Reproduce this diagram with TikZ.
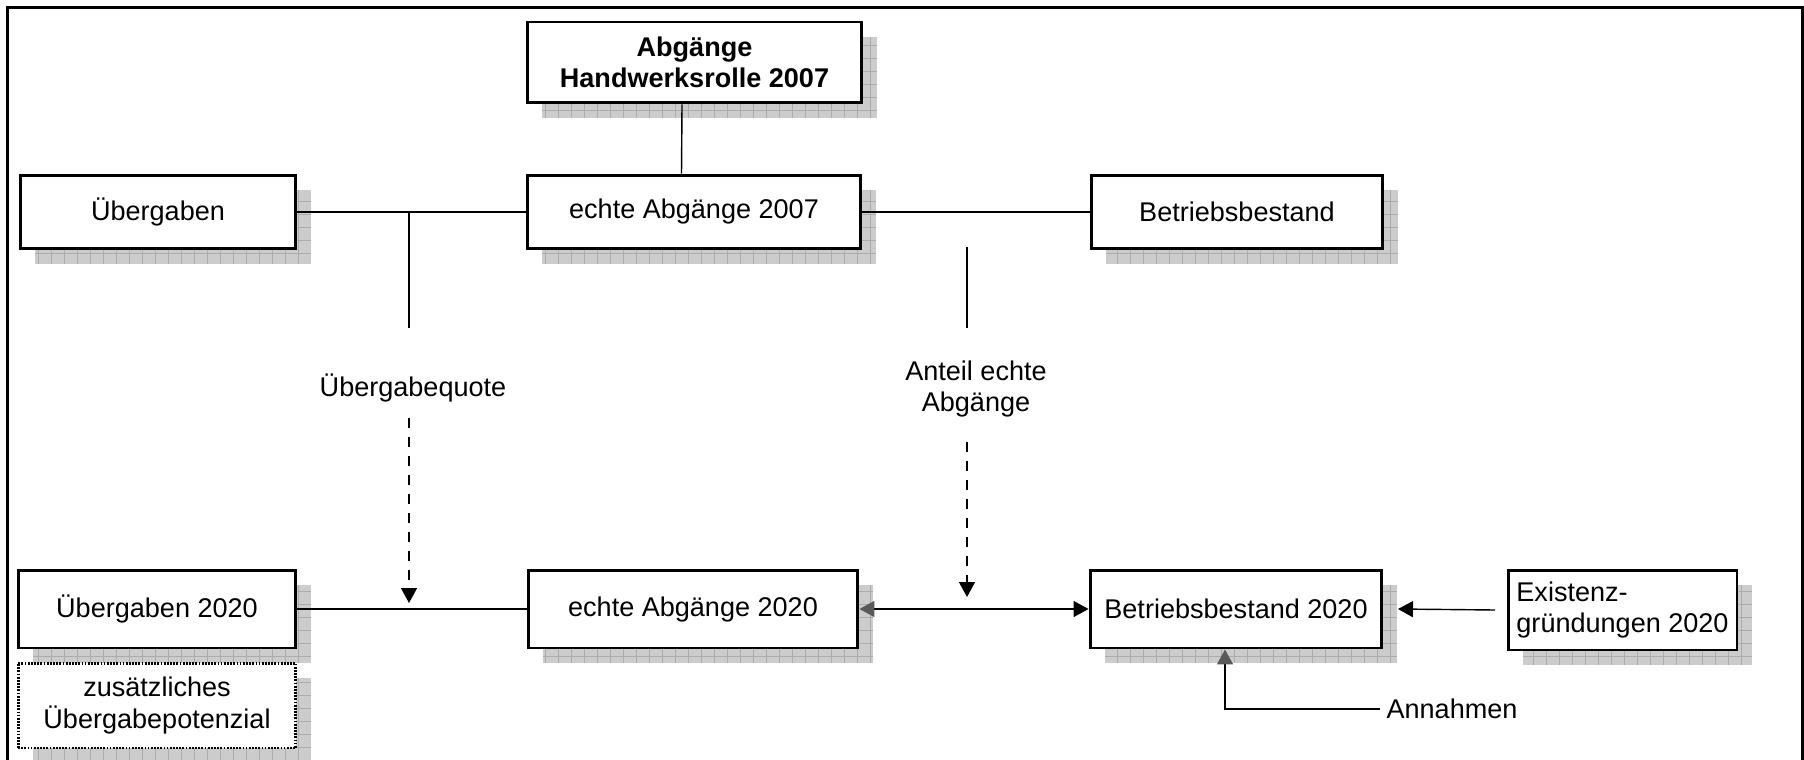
\documentclass[tikz,border=0pt]{standalone}
\usepackage{fontspec}
\setmainfont{Liberation Sans}
\usetikzlibrary{arrows.meta,shadows,patterns.meta}
\tikzset{
  box/.style={draw, line width=1.7pt, fill=white, align=center, inner sep=2pt,
    general shadow={shadow xshift=0.3cm, shadow yshift=-0.3cm, fill=gray!40,
      postaction={pattern={Hatch[angle=0,distance=0.26cm,line width=0.4pt]}, pattern color=gray!65}}},
  dotbox/.style={box, dash pattern=on 1pt off 0.8pt},
  conn/.style={line width=0.8pt},
  tip/.style={-{Triangle[length=0.3cm,width=0.32cm]}},
  greytip/.style={{Triangle[length=0.3cm,width=0.32cm,color=black!65]}-},
  bothtips/.style={{Triangle[length=0.3cm,width=0.32cm,color=black!65]}-{Triangle[length=0.3cm,width=0.32cm]}},
}
\begin{document}
\begin{tikzpicture}[x=0.02cm,y=-0.02cm,font=\fontsize{15.4}{18}\selectfont]
    \useasboundingbox (0,0) rectangle (1804,760);
    \draw[line width=1.7pt] (7.5,7.5) rectangle (1802,775);
    % obere Reihe
    \node[box,minimum width=6.7cm,minimum height=1.62cm] (top) at (694.5,62.5) {\textbf{Abgänge}\\\textbf{Handwerksrolle 2007}};
    \node[box,minimum width=5.52cm,minimum height=1.48cm] (ueb07) at (158,212) {Übergaben};
    \node[box,minimum width=6.68cm,minimum height=1.48cm] (e07) at (694,212) {echte Abgänge 2007};
    \node[box,minimum width=5.84cm,minimum height=1.48cm] (bb07) at (1237,212) {Betriebsbestand};
    % untere Reihe
    \node[box,minimum width=5.56cm,minimum height=1.56cm] (ueb20) at (157,609) {Übergaben 2020};
    \node[dotbox,minimum width=5.56cm,minimum height=1.7cm] (zus) at (157,705.5) {zusätzliches\\Übergabepotenzial};
    \node[box,minimum width=6.6cm,minimum height=1.56cm] (e20) at (693,609) {echte Abgänge 2020};
    \node[box,minimum width=5.84cm,minimum height=1.56cm] (bb20) at (1236,609) {Betriebsbestand 2020};
    \node[box,minimum width=4.58cm,minimum height=1.6cm,align=left] (exi) at (1622.5,610) {Existenz-\\gründungen 2020};
    % Quoten
    \node (quote) at (413,388) {Übergabequote};
    \node[align=center] (anteil) at (976,389) {Anteil echte\\Abgänge};
    \node (ann) at (1452,709) {Annahmen};
    \coordinate (qa) at (409,212); \coordinate (qb) at (409,328); \coordinate (qc) at (409,418); \coordinate (qd) at (409,603);
    \coordinate (aa) at (967,247); \coordinate (ab) at (967,328); \coordinate (ac) at (967,442); \coordinate (ad) at (967,597);
    \draw[conn] ([xshift=-0.25cm]top.south) -- ([xshift=-0.25cm]e07.north);
    \draw[conn] (ueb07) -- (e07); \draw[conn] (e07) -- (bb07);
    \draw[conn] (qa) -- (qb); \draw[conn] (aa) -- (ab);
    \draw[conn,tip,dash pattern=on 0.2cm off 0.18cm] (qc) -- (qd);
    \draw[conn,tip,dash pattern=on 0.2cm off 0.18cm] (ac) -- (ad);
    \draw[conn] (ueb20) -- (e20);
    \draw[conn,bothtips] (e20.east) -- (bb20.west);
    \draw[conn,tip] ([xshift=-0.23cm]exi.west) -- ([xshift=0.29cm]bb20.east);
    \draw[conn,greytip] ([xshift=-0.22cm]bb20.south) |- (ann.west);
  \end{tikzpicture}
\end{document}
